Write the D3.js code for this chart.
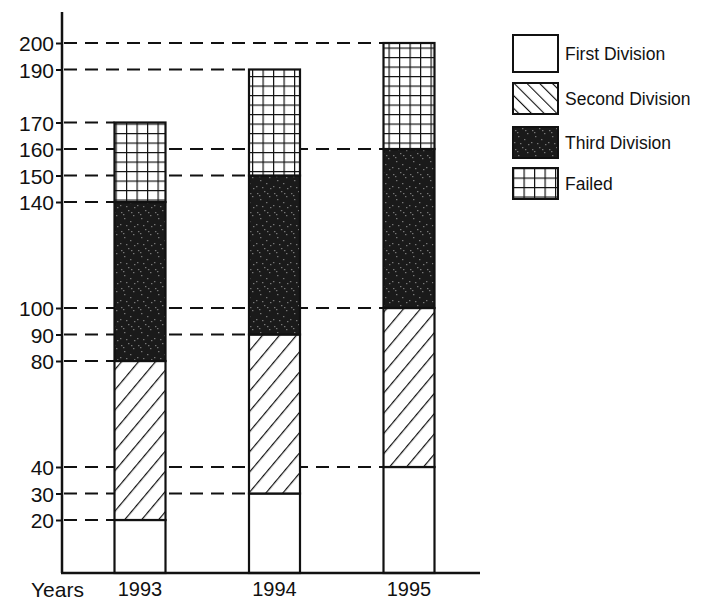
<!DOCTYPE html>
<html>
<head>
<meta charset="utf-8">
<script src="https://cdn.jsdelivr.net/npm/d3@7"></script>
<style>
  body { margin: 0; background: #fff; }
  text { font-family: "Liberation Sans", Arial, sans-serif; fill: #111; }
</style>
</head>
<body>
<svg width="727" height="602"></svg>
<script>
var years = ["1993", "1994", "1995"];
var firstDiv = [20, 30, 40];
var secondDiv = [60, 60, 60];
var thirdDiv = [60, 60, 60];
var failed = [30, 40, 40];
var tickValues = [20, 30, 40, 80, 90, 100, 140, 150, 160, 170, 190, 200];
var seriesNames = ["First Division", "Second Division", "Third Division", "Failed"];

var svg = d3.select("svg");

var x = d3.scalePoint().domain(years).range([140, 409]);
var y = d3.scaleLinear().domain([0, 200]).range([573, 43]);
var barW = 51;

// patterns
var defs = svg.append("defs");
var hatch = defs.append("pattern").attr("id", "hatch")
    .attr("patternUnits", "userSpaceOnUse").attr("width", 13).attr("height", 13)
    .attr("patternTransform", "rotate(40)");
hatch.append("rect").attr("width", 13).attr("height", 13).attr("fill", "#fff");
hatch.append("line").attr("x1", 0).attr("y1", 0).attr("x2", 0).attr("y2", 13)
    .attr("stroke", "#111").attr("stroke-width", 2.4);

var hatchL = defs.append("pattern").attr("id", "hatchL")
    .attr("patternUnits", "userSpaceOnUse").attr("width", 9).attr("height", 9)
    .attr("patternTransform", "rotate(-45)");
hatchL.append("rect").attr("width", 9).attr("height", 9).attr("fill", "#fff");
hatchL.append("line").attr("x1", 0).attr("y1", 0).attr("x2", 0).attr("y2", 9)
    .attr("stroke", "#111").attr("stroke-width", 2.2);

var speck = defs.append("pattern").attr("id", "speck")
    .attr("patternUnits", "userSpaceOnUse").attr("width", 17).attr("height", 19);
speck.append("rect").attr("width", 17).attr("height", 19).attr("fill", "#1a1a1a");
[[2,3],[9,1],[14,6],[5,9],[11,12],[1,15],[7,16],[15,17],[12,3],[4,5]].forEach(function(p) {
  speck.append("rect").attr("x", p[0]).attr("y", p[1]).attr("width", 1.4).attr("height", 1.2)
      .attr("fill", "#777");
});

var grid = defs.append("pattern").attr("id", "grid")
    .attr("patternUnits", "userSpaceOnUse").attr("width", 10.5).attr("height", 9.5)
    .attr("x", 0).attr("y", 0);
grid.append("rect").attr("width", 10.5).attr("height", 9.5).attr("fill", "#fff");
grid.append("path").attr("d", "M0,0H10.5M0,0V9.5")
    .attr("stroke", "#111").attr("stroke-width", 2.4).attr("fill", "none");

var fills = ["#fff", "url(#hatch)", "url(#speck)", "url(#grid)"];
var legendFills = ["#fff", "url(#hatchL)", "url(#speck)", "url(#grid)"];

// stacked data
var rows = years.map(function(yr, i) {
  return { year: yr, first: firstDiv[i], second: secondDiv[i], third: thirdDiv[i], failed: failed[i] };
});
var stack = d3.stack().keys(["first", "second", "third", "failed"]);
var layers = stack(rows);

// dashed guide lines from axis to the bar they belong to
var guides = [];
layers.forEach(function(layer) {
  layer.forEach(function(d) { guides.push({ v: d[1], year: d.data.year }); });
});
svg.append("g").selectAll("line")
  .data(guides)
  .enter().append("line")
    .attr("x1", 64)
    .attr("x2", function(d) { return x(d.year) - barW / 2; })
    .attr("y1", function(d) { return y(d.v); })
    .attr("y2", function(d) { return y(d.v); })
    .attr("stroke", "#111")
    .attr("stroke-width", 2)
    .attr("stroke-dasharray", "13,8");

// bars
svg.append("g").selectAll("g")
  .data(layers)
  .enter().append("g")
    .attr("fill", function(d, i) { return fills[i]; })
  .selectAll("rect")
  .data(function(d) { return d; })
  .enter().append("rect")
    .attr("x", function(d) { return x(d.data.year) - barW / 2; })
    .attr("y", function(d) { return y(d[1]); })
    .attr("width", barW)
    .attr("height", function(d) { return y(d[0]) - y(d[1]); })
    .attr("stroke", "#111")
    .attr("stroke-width", 2.2);

// y axis
var yAxis = svg.append("g")
    .attr("transform", "translate(62,0)")
    .call(d3.axisLeft(y).tickValues(tickValues).tickSize(6).tickPadding(2));
yAxis.select(".domain").remove();
yAxis.selectAll(".tick line").attr("stroke", "#111").attr("stroke-width", 2);
yAxis.selectAll(".tick text").attr("font-size", 21).attr("font-family", "Liberation Sans, Arial, sans-serif")
    .attr("fill", "#111").attr("dy", "0.36em");
svg.append("line").attr("x1", 62).attr("x2", 62).attr("y1", 12).attr("y2", y(0))
    .attr("stroke", "#111").attr("stroke-width", 2.5);

// x axis
svg.append("line").attr("x1", 61).attr("x2", 480).attr("y1", y(0)).attr("y2", y(0))
    .attr("stroke", "#111").attr("stroke-width", 2.5);
svg.append("g").selectAll("text")
  .data(years)
  .enter().append("text")
    .attr("x", function(d) { return x(d); })
    .attr("y", 596)
    .attr("text-anchor", "middle")
    .attr("font-size", 20)
    .text(function(d) { return d; });
svg.append("text").attr("x", 31).attr("y", 597).attr("font-size", 21).text("Years");

// legend
var legendY = [35, 83, 127, 168];
var legend = svg.append("g").selectAll("g")
  .data(seriesNames)
  .enter().append("g")
    .attr("transform", function(d, i) { return "translate(513," + legendY[i] + ")"; });
legend.append("rect")
    .attr("width", 45)
    .attr("height", function(d, i) { return i === 0 ? 37 : 31; })
    .attr("fill", function(d, i) { return legendFills[i]; })
    .attr("stroke", "#111").attr("stroke-width", 2);
legend.append("text")
    .attr("x", 52)
    .attr("y", function(d, i) { return i === 0 ? 25 : 22; })
    .attr("font-size", 17.5)
    .text(function(d) { return d; });
</script>
</body>
</html>
